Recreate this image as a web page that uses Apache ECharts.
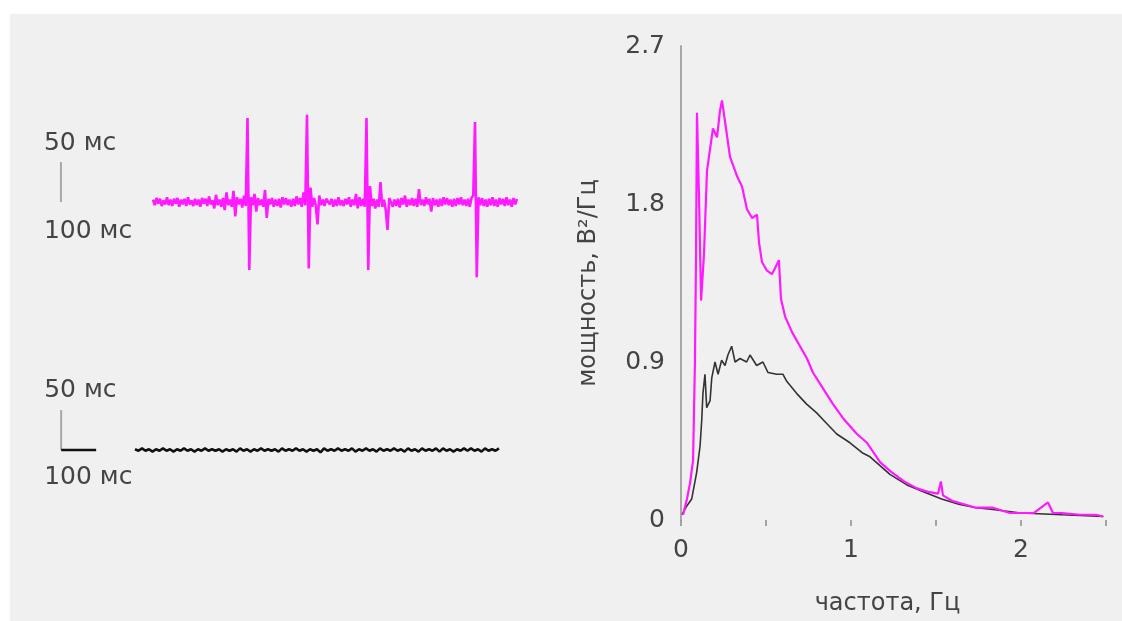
<!DOCTYPE html>
<html>
<head>
<meta charset="utf-8">
<script src="https://cdn.jsdelivr.net/npm/echarts@6/dist/echarts.min.js"></script>
<style>
  html, body { margin: 0; padding: 0; background: #ffffff; width: 1122px; height: 621px; overflow: hidden; }
  #chart { position: absolute; left: 10px; top: 14px; width: 1112px; height: 607px; }
</style>
</head>
<body>
<div id="chart"></div>
<script>
// ---------- Left panel: raw traces ----------
const pinkSampleMs = 5;
const pinkTrace = [
  3,-4,5,-2,4,-5,2,-3,6,-4,3,-5,4,-2,5,-6,3,-3,4,-5,
  6,-3,2,-5,4,-4,3,-6,5,-2,4,-5,7,-3,2,-8,9,-4,3,-6,
  5,-10,12,-4,3,-6,14,-18,6,-3,4,-7,8,-5,105,-85,6,-4,10,-12,
  5,-4,3,-6,15,-20,4,-3,5,-6,3,-5,4,-7,6,-3,5,-4,3,-6,
  4,-5,7,-3,5,-6,12,-4,109,-83,18,-6,5,-4,-28,8,-4,3,-5,4,
  5,-3,4,-6,3,-5,6,-4,2,-5,4,-3,6,-6,3,-4,10,-8,6,-5,
  4,-6,105,-85,20,-5,4,-8,3,-6,25,-6,3,-10,-35,5,4,-6,3,-5,
  4,-7,5,-3,8,-6,3,-4,5,-5,4,-6,16,-4,3,-5,6,-3,4,-12,
  5,-4,3,-6,4,-5,6,-3,5,-4,3,-6,4,-5,5,-3,6,-4,3,-5,
  4,-6,5,8,100,-94,6,-4,5,-5,3,-6,4,-4,6,-5,3,-6,5,-3,
  4,-5,6,-4,3,-6,5,-3,4];
const blackSampleMs = 10;
const blackTrace = [1,-1,2,-1,1,-2,1,-1,2,-1,1,-2,1,-1,2,-1,1,-2,1,-1,2,-1,1,-1,1,-2,1,-1,1,-2,
  2,-1,1,-2,1,-1,2,-1,1,-1,1,-2,2,-1,1,-1,2,-1,1,-2,1,-1,1,-3,2,-1,1,-1,2,-1,
  1,-1,2,-2,1,-1,2,-1,1,-2,2,-1,1,-1,2,-1,1,-2,2,-1,1,-2,2,-1,1,-1,2,-2,2,-1,
  1,-2,1,-1,2,-1,2,-1,1,-2,2,-1,1,-1,2];
// scale bars: [ms, units]
const topBar = [[-263, 0], [-263, 50]];
const bottomBarV = [[-211, 0], [-211, 50]];
const bottomBarH = [[-211, 0], [-111, 0]];
const barLabelAmp = '50 мс';
const barLabelTime = '100 мс';

// ---------- Right panel: power spectra ----------
const freqPink = [0.012,0.035,0.053,0.071,0.082,0.088,0.094,0.106,0.118,0.135,0.153,0.188,0.212,0.229,0.241,0.259,0.288,0.329,0.359,0.388,
  0.418,0.447,0.459,0.476,0.506,0.535,0.576,0.588,0.612,0.653,0.700,0.741,0.776,0.835,0.894,0.953,1.035,1.094,1.171,1.229,
  1.312,1.388,1.453,1.512,1.529,1.541,1.594,1.735,1.835,1.935,2.076,2.159,2.188,2.241,2.347,2.441,2.482];
const powerPink = [0.03,0.12,0.21,0.34,0.90,1.46,2.32,1.84,1.25,1.51,1.99,2.23,2.18,2.33,2.39,2.27,2.07,1.96,1.90,1.77,
  1.72,1.74,1.58,1.47,1.42,1.40,1.48,1.26,1.16,1.07,0.99,0.92,0.84,0.75,0.66,0.58,0.49,0.44,0.33,0.28,
  0.22,0.18,0.16,0.15,0.22,0.14,0.11,0.07,0.07,0.04,0.04,0.10,0.04,0.04,0.03,0.03,0.02];
const freqBlack = [0.006,0.034,0.063,0.092,0.112,0.122,0.129,0.141,0.151,0.171,0.181,0.200,0.218,0.239,0.259,0.276,0.298,0.318,0.347,0.386,
  0.406,0.445,0.482,0.512,0.563,0.600,0.622,0.681,0.739,0.798,0.857,0.916,0.994,1.071,1.112,1.229,1.329,1.429,1.533,1.634,
  1.735,1.835,1.999,2.241,2.485];
const powerBlack = [0.03,0.08,0.12,0.27,0.42,0.57,0.72,0.83,0.64,0.68,0.81,0.90,0.83,0.91,0.88,0.94,0.99,0.90,0.92,0.90,
  0.94,0.88,0.90,0.84,0.83,0.83,0.79,0.72,0.66,0.61,0.55,0.49,0.44,0.38,0.36,0.26,0.20,0.16,0.12,0.09,
  0.07,0.06,0.04,0.03,0.02];
const xTicks = [0, 1, 2];
const yTicks = [0, 0.9, 1.8, 2.7];

const PINK = '#ff1aff';
const TEXT = '#444444';
const FONT = 'DejaVu Sans';

const pinkData = pinkTrace.map((v, i) => [i * pinkSampleMs, v]);
const blackData = blackTrace.map((v, i) => [i * blackSampleMs, v]);
const zip = (a, b) => a.map((x, i) => [x, b[i]]);

const lblStyle = { show: true, fontFamily: FONT, fontSize: 25, color: TEXT, align: 'left', offset: [-17, 0] };
function barData(pts, topDist, botDist) {
  return [
    { value: pts[0], label: Object.assign({}, lblStyle, { formatter: barLabelTime, position: 'bottom', distance: botDist }) },
    { value: pts[1], label: Object.assign({}, lblStyle, { formatter: barLabelAmp, position: 'top', distance: topDist }) }
  ];
}
const hiddenAxis = (extra) => Object.assign({ type: 'value', show: false, splitLine: { show: false } }, extra);

const chart = echarts.init(document.getElementById('chart'), null, { renderer: 'canvas' });
chart.setOption({
  backgroundColor: '#f0f0f0',
  animation: false,
  textStyle: { fontFamily: FONT },
  grid: [
    { left: 38, top: 68, width: 490, height: 240 },
    { left: 20, top: 356, width: 490, height: 160 },
    { left: 671, top: 32, right: 16, bottom: 89 }
  ],
  xAxis: [
    hiddenAxis({ gridIndex: 0, min: -300, max: 1100 }),
    hiddenAxis({ gridIndex: 1, min: -300, max: 1100 }),
    {
      type: 'value', gridIndex: 2, min: 0, max: 2.5, interval: 0.5,
      axisLine: { show: false },
      axisTick: { show: true, length: 6, lineStyle: { color: '#8a8a8a', width: 1.5 } },
      axisLabel: {
        margin: 18, fontFamily: FONT, fontSize: 25, color: TEXT,
        formatter: v => (xTicks.indexOf(Math.round(v * 10) / 10) >= 0 ? String(Math.round(v)) : '')
      },
      splitLine: { show: false },
      name: 'частота, Гц', nameLocation: 'middle', nameGap: 72,
      nameTextStyle: { fontFamily: FONT, fontSize: 24, color: TEXT, padding: [0, 12, 0, 0] }
    }
  ],
  yAxis: [
    hiddenAxis({ gridIndex: 0, min: -150, max: 150 }),
    hiddenAxis({ gridIndex: 1, min: -100, max: 100 }),
    {
      type: 'value', gridIndex: 2, min: 0, max: 2.7, interval: 0.9,
      axisLine: { show: true, lineStyle: { color: '#a8a8a8', width: 2 } },
      axisTick: { show: false },
      axisLabel: {
        margin: 16, fontFamily: FONT, fontSize: 25, color: TEXT,
        formatter: v => { const r = Math.round(v * 10) / 10; return yTicks.indexOf(r) >= 0 ? (r === 0 ? '0' : r.toFixed(1)) : ''; }
      },
      splitLine: { show: false },
      name: 'мощность, В²/Гц', nameLocation: 'middle', nameGap: 80,
      nameTextStyle: { fontFamily: FONT, fontSize: 24, color: TEXT }
    }
  ],
  series: [
    { type: 'line', xAxisIndex: 0, yAxisIndex: 0, data: pinkData, showSymbol: false, symbol: 'none',
      lineStyle: { color: PINK, width: 2.6 }, z: 3 },
    { type: 'line', xAxisIndex: 0, yAxisIndex: 0, data: barData(topBar, 6, 17), symbol: 'circle', symbolSize: 0, showSymbol: true,
      lineStyle: { color: '#a8a8a8', width: 2 }, itemStyle: { color: '#a8a8a8' } },
    { type: 'line', xAxisIndex: 1, yAxisIndex: 1, data: blackData, showSymbol: false, symbol: 'none',
      lineStyle: { color: '#111111', width: 2.6 }, z: 3 },
    { type: 'line', xAxisIndex: 1, yAxisIndex: 1, data: barData(bottomBarV, 7, 15), symbol: 'circle', symbolSize: 0, showSymbol: true,
      lineStyle: { color: '#a8a8a8', width: 2 }, itemStyle: { color: '#a8a8a8' } },
    { type: 'line', xAxisIndex: 1, yAxisIndex: 1, data: bottomBarH, showSymbol: false, symbol: 'none',
      lineStyle: { color: '#111111', width: 2.5 } },
    { type: 'line', xAxisIndex: 2, yAxisIndex: 2, data: zip(freqPink, powerPink), showSymbol: false, symbol: 'none',
      lineStyle: { color: PINK, width: 2.2 }, z: 3 },
    { type: 'line', xAxisIndex: 2, yAxisIndex: 2, data: zip(freqBlack, powerBlack), showSymbol: false, symbol: 'none',
      lineStyle: { color: '#333333', width: 1.6 }, z: 2 }
  ]
});
</script>
</body>
</html>
